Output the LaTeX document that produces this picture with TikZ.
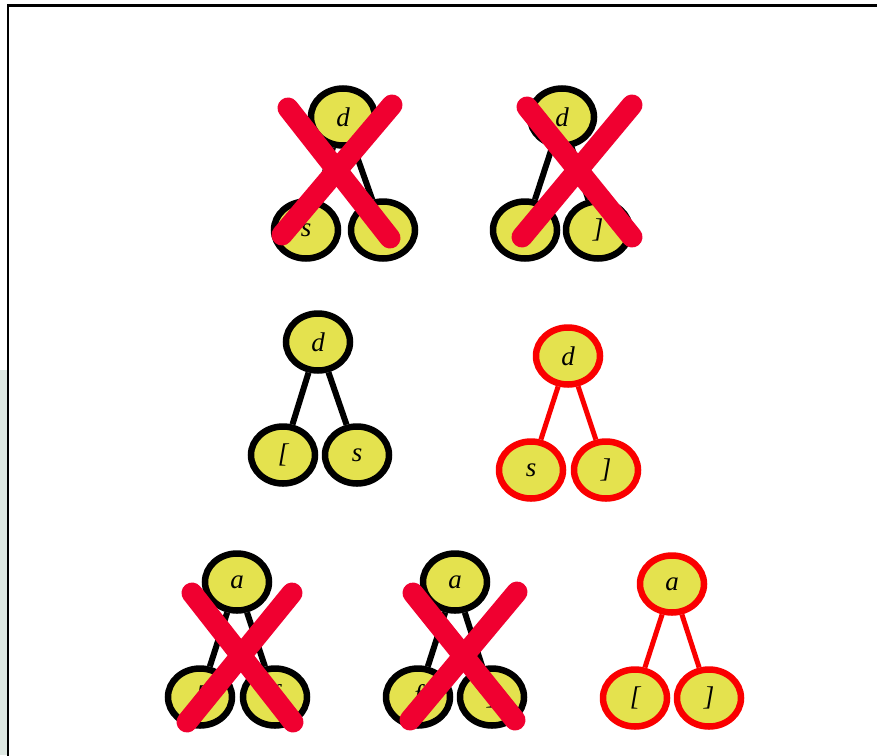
\documentclass[tikz,border=0pt]{standalone}
\usepackage{fontspec}
\setmainfont{Liberation Serif}
\usetikzlibrary{shapes.geometric}
\definecolor{nodefill}{RGB}{228,226,78}
\definecolor{xred}{RGB}{240,0,48}
\definecolor{okred}{RGB}{250,0,0}
\definecolor{sidetint}{RGB}{222,232,226}
\tikzset{
  tn/.style={ellipse, draw=black, fill=nodefill, line width=6.5pt, minimum width=64pt, minimum height=57pt, inner sep=0pt, font=\fontsize{27}{27}\selectfont\itshape},
  rn/.style={tn, draw=okred},
  edge/.style={line width=6pt, black},
  redge/.style={line width=5pt, okred},
  cross/.style={line width=21pt, xred, line cap=round},
}
\begin{document}
\begin{tikzpicture}[x=1pt,y=-1pt]
\useasboundingbox (0,0) rectangle (877,755);
\fill[white] (0,0) rectangle (877,755);
\fill[sidetint] (0,370) rectangle (7,755);
\draw[line width=2.5pt] (8,760) -- (8,5.5) -- (880,5.5);

% Tree 1 (crossed)
\node[tn] (t1r) at (343,117) {d};
\node[tn] (t1a) at (306,230) {s};
\node[tn] (t1b) at (383,230) {s};
\draw[edge] (t1r) -- (t1a);
\draw[edge] (t1r) -- (t1b);
\coordinate (c1a) at (288,108); \coordinate (c1b) at (390,238);
\coordinate (c1c) at (392,105); \coordinate (c1d) at (282,235);
\draw[cross] (c1a) -- (c1b);
\draw[cross] (c1c) -- (c1d);

% Tree 2 (crossed)
\node[tn] (t2r) at (562,117) {d};
\node[tn] (t2a) at (525,230) {s};
\node[tn] (t2b) at (598,230) {]};
\draw[edge] (t2r) -- (t2a);
\draw[edge] (t2r) -- (t2b);
\coordinate (c2a) at (527,107); \coordinate (c2b) at (632,237);
\coordinate (c2c) at (632,105); \coordinate (c2d) at (522,237);
\draw[cross] (c2a) -- (c2b);
\draw[cross] (c2c) -- (c2d);

% Tree 3
\node[tn] (t3r) at (318,342) {d};
\node[tn] (t3a) at (283,455) {[};
\node[tn] (t3b) at (357,455) {s};
\draw[edge] (t3r) -- (t3a);
\draw[edge] (t3r) -- (t3b);

% Tree 4 (red)
\node[rn] (t4r) at (568,356) {d};
\node[rn] (t4a) at (531,470) {s};
\node[rn] (t4b) at (606,470) {]};
\draw[redge] (t4r) -- (t4a);
\draw[redge] (t4r) -- (t4b);

% Tree 5 (crossed)
\node[tn] (t5r) at (237,582) {a};
\node[tn] (t5a) at (200,697) {[};
\node[tn] (t5b) at (275,697) {f};
\draw[edge] (t5r) -- (t5a);
\draw[edge] (t5r) -- (t5b);
\coordinate (c5a) at (192,593); \coordinate (c5b) at (293,722);
\coordinate (c5c) at (292,593); \coordinate (c5d) at (187,722);
\draw[cross] (c5a) -- (c5b);
\draw[cross] (c5c) -- (c5d);

% Tree 6 (crossed)
\node[tn] (t6r) at (455,582) {a};
\node[tn] (t6a) at (418,697) {f};
\node[tn] (t6b) at (492,697) {]};
\draw[edge] (t6r) -- (t6a);
\draw[edge] (t6r) -- (t6b);
\coordinate (c6a) at (413,593); \coordinate (c6b) at (515,720);
\coordinate (c6c) at (517,592); \coordinate (c6d) at (410,720);
\draw[cross] (c6a) -- (c6b);
\draw[cross] (c6c) -- (c6d);

% Tree 7 (red)
\node[rn] (t7r) at (672,584) {a};
\node[rn] (t7a) at (635,698) {[};
\node[rn] (t7b) at (709,698) {]};
\draw[redge] (t7r) -- (t7a);
\draw[redge] (t7r) -- (t7b);
\end{tikzpicture}
\end{document}
